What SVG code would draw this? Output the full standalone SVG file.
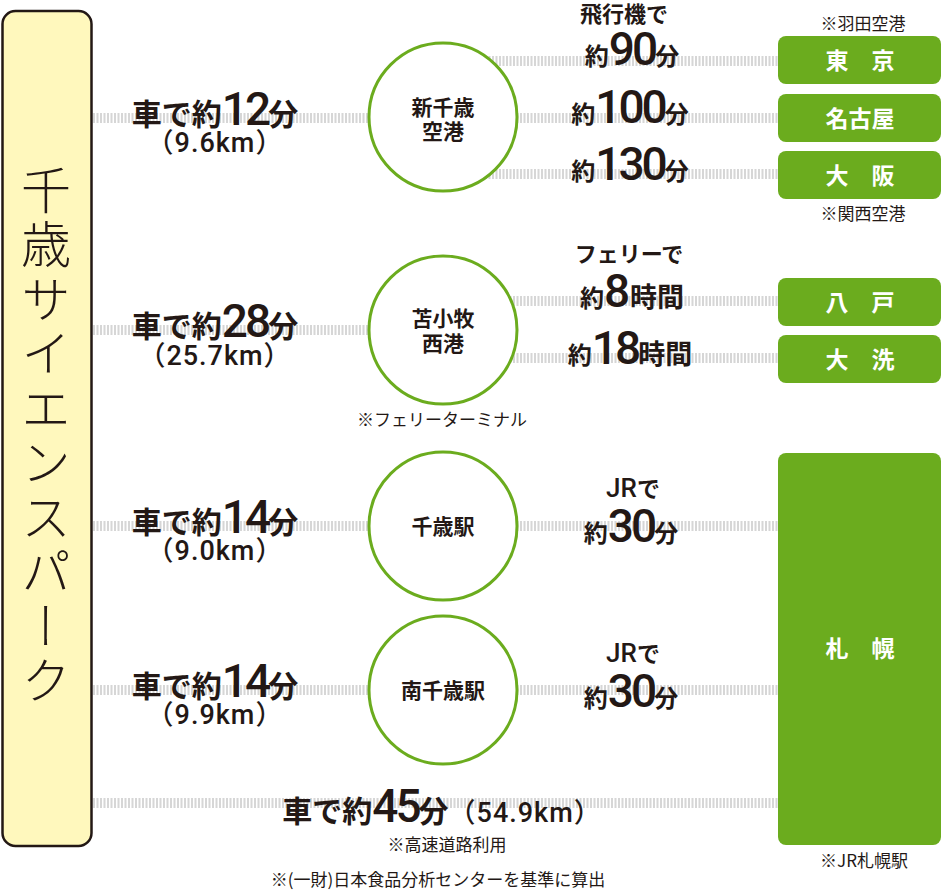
<svg xmlns="http://www.w3.org/2000/svg" width="942" height="890" viewBox="0 0 942 890">
<style>
.jp{font-family:"Noto Sans CJK JP","Noto Sans",sans-serif;font-weight:700;fill:#231815}
.n{font-family:Roboto,"Noto Sans CJK JP",sans-serif;font-weight:500;font-size:46px;letter-spacing:-3px}
.n1{font-family:Roboto,"Noto Sans CJK JP",sans-serif;font-weight:500;font-size:46px}
.km{font-family:Roboto,"Noto Sans CJK JP",sans-serif;font-weight:500;font-size:27px;letter-spacing:1px;fill:#231815}
.note{font-family:"Noto Sans CJK JP","Noto Sans",sans-serif;font-weight:400;font-size:17px;fill:#231815}
.dot{stroke:#d6d6d6;stroke-width:10;stroke-dasharray:2 1.5;fill:none}
.circ{fill:#fff;stroke:#6bac1e;stroke-width:3}
.box{fill:#6bac1e}
.bt{font-family:"Noto Sans CJK JP",sans-serif;font-weight:700;font-size:23px;fill:#fff}
.ct{font-family:"Noto Sans CJK JP",sans-serif;font-weight:700;font-size:21px;fill:#231815}
</style>
<g id="connectors">
<line class="dot" x1="93" y1="118" x2="443" y2="118"/>
<line class="dot" x1="443" y1="61" x2="778" y2="61"/>
<line class="dot" x1="443" y1="118" x2="778" y2="118"/>
<line class="dot" x1="443" y1="174" x2="778" y2="174"/>
<line class="dot" x1="93" y1="330" x2="443" y2="330"/>
<line class="dot" x1="443" y1="301" x2="778" y2="301"/>
<line class="dot" x1="443" y1="358" x2="778" y2="358"/>
<line class="dot" x1="93" y1="526" x2="778" y2="526"/>
<line class="dot" x1="93" y1="690" x2="778" y2="690"/>
<line class="dot" x1="93" y1="803" x2="778" y2="803"/>
</g>
<g id="park">
<rect x="2.5" y="11" width="89" height="835" rx="13" fill="#fff8bd" stroke="#231815" stroke-width="2.5"/>
<text x="46" y="437" font-family="'Noto Sans CJK JP',sans-serif" font-weight="300" font-size="50" fill="#231815" text-anchor="middle" letter-spacing="4.5" style="writing-mode:vertical-rl">千歳サイエンスパーク</text>
</g>
<g id="labels-left">
<text x="215" y="125" text-anchor="middle" class="jp" font-size="30"><tspan>車で約</tspan><tspan class="n">12</tspan><tspan>分</tspan></text>
<text x="215" y="152" text-anchor="middle" class="km">（9.6km）</text>
<text x="215" y="337" text-anchor="middle" class="jp" font-size="30"><tspan>車で約</tspan><tspan class="n">28</tspan><tspan>分</tspan></text>
<text x="215" y="365" text-anchor="middle" class="km">（25.7km）</text>
<text x="215" y="533" text-anchor="middle" class="jp" font-size="30"><tspan>車で約</tspan><tspan class="n">14</tspan><tspan>分</tspan></text>
<text x="215" y="560" text-anchor="middle" class="km">（9.0km）</text>
<text x="215" y="697" text-anchor="middle" class="jp" font-size="30"><tspan>車で約</tspan><tspan class="n">14</tspan><tspan>分</tspan></text>
<text x="215" y="724" text-anchor="middle" class="km">（9.9km）</text>
<text x="442" y="822" text-anchor="middle" class="jp" font-size="30"><tspan>車で約</tspan><tspan class="n">45</tspan><tspan>分</tspan><tspan class="km" font-size="28">（54.9km）</tspan></text>
<text x="447" y="851" text-anchor="middle" class="note">※高速道路利用</text>
<text x="438" y="886" text-anchor="middle" class="note" font-size="17.5">※(一財)日本食品分析センターを基準に算出</text>
</g>
<g id="labels-right">
<text x="624" y="22" text-anchor="middle" class="jp" font-size="22">飛行機で</text>
<text x="632" y="65" text-anchor="middle" class="jp" font-size="24"><tspan>約</tspan><tspan class="n">90</tspan><tspan>分</tspan></text>
<text x="630" y="123" text-anchor="middle" class="jp" font-size="24"><tspan>約</tspan><tspan class="n">100</tspan><tspan>分</tspan></text>
<text x="630" y="180" text-anchor="middle" class="jp" font-size="24"><tspan>約</tspan><tspan class="n">130</tspan><tspan>分</tspan></text>
<text x="629" y="262" text-anchor="middle" class="jp" font-size="22">フェリーで</text>
<text x="632" y="307" text-anchor="middle" class="jp" font-size="24"><tspan>約</tspan><tspan class="n1">8</tspan><tspan font-size="27">時間</tspan></text>
<text x="630" y="364" text-anchor="middle" class="jp" font-size="24"><tspan>約</tspan><tspan class="n">18</tspan><tspan font-size="27">時間</tspan></text>
<text x="633" y="497" text-anchor="middle" class="jp" font-size="23"><tspan font-family="Roboto,sans-serif" font-weight="500" font-size="26">JR</tspan><tspan>で</tspan></text>
<text x="631" y="542" text-anchor="middle" class="jp" font-size="24"><tspan>約</tspan><tspan class="n">30</tspan><tspan>分</tspan></text>
<text x="633" y="662" text-anchor="middle" class="jp" font-size="23"><tspan font-family="Roboto,sans-serif" font-weight="500" font-size="26">JR</tspan><tspan>で</tspan></text>
<text x="631" y="707" text-anchor="middle" class="jp" font-size="24"><tspan>約</tspan><tspan class="n">30</tspan><tspan>分</tspan></text>
</g>
<g id="shinchitose">
<circle class="circ" cx="443" cy="117" r="74"/>
<text x="443" y="115" text-anchor="middle" class="ct">新千歳</text>
<text x="443" y="139" text-anchor="middle" class="ct">空港</text>
</g>
<g id="tomakomai">
<circle class="circ" cx="443" cy="330" r="74"/>
<text x="443" y="326" text-anchor="middle" class="ct">苫小牧</text>
<text x="443" y="351" text-anchor="middle" class="ct">西港</text>
<text x="442" y="426" text-anchor="middle" class="note" font-size="16">※フェリーターミナル</text>
</g>
<g id="chitose-st">
<circle class="circ" cx="443" cy="526" r="74"/>
<text x="443" y="534" text-anchor="middle" class="ct">千歳駅</text>
</g>
<g id="minamichitose-st">
<circle class="circ" cx="443" cy="690" r="74"/>
<text x="443" y="698" text-anchor="middle" class="ct">南千歳駅</text>
</g>
<g id="tokyo">
<text x="863" y="30" text-anchor="middle" class="note">※羽田空港</text>
<rect class="box" x="778" y="36" width="163" height="48" rx="8"/>
<text x="860" y="69" text-anchor="middle" class="bt">東　京</text>
</g>
<g id="nagoya">
<rect class="box" x="778" y="94" width="163" height="48" rx="8"/>
<text x="860" y="127" text-anchor="middle" class="bt">名古屋</text>
</g>
<g id="osaka">
<rect class="box" x="778" y="151" width="163" height="48" rx="8"/>
<text x="860" y="184" text-anchor="middle" class="bt">大　阪</text>
<text x="863" y="220" text-anchor="middle" class="note">※関西空港</text>
</g>
<g id="hachinohe">
<rect class="box" x="778" y="278" width="163" height="48" rx="8"/>
<text x="860" y="311" text-anchor="middle" class="bt">八　戸</text>
</g>
<g id="oarai">
<rect class="box" x="778" y="335" width="163" height="48" rx="8"/>
<text x="860" y="368" text-anchor="middle" class="bt">大　洗</text>
</g>
<g id="sapporo">
<rect class="box" x="778" y="453" width="163" height="392" rx="8"/>
<text x="860" y="657" text-anchor="middle" class="bt">札　幌</text>
<text x="864" y="867" text-anchor="middle" class="note">※JR札幌駅</text>
</g>
</svg>
